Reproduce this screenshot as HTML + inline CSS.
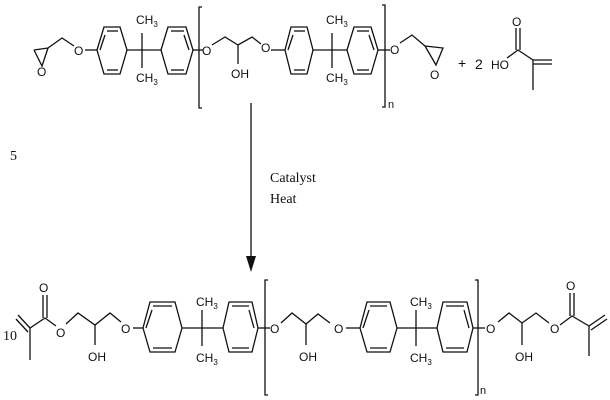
<!DOCTYPE html>
<html><head><meta charset="utf-8"><style>
html,body{margin:0;padding:0;background:#fff;}
svg{display:block;}
text{font-family:"Liberation Sans",sans-serif;fill:#111;}
</style></head><body>
<svg width="610" height="400" viewBox="0 0 610 400" xmlns="http://www.w3.org/2000/svg">
<g stroke="#111" stroke-width="1.3" fill="none">
<polyline points="34,50 48,48 42,66 34,50"/>
<polyline points="48,48 62,38 74,46"/>
<line x1="85" y1="50" x2="97" y2="50"/>
<polygon points="97,50 104,27 120,27 127,50 120,74 104,74"/>
<line x1="107" y1="31" x2="118" y2="31"/><line x1="107" y1="70" x2="118" y2="70"/><line x1="100" y1="50" x2="105" y2="35"/>
<line x1="127" y1="50" x2="161" y2="50"/>
<line x1="142" y1="33" x2="142" y2="68"/>
<polygon points="161,50 168,27 186,27 193,50 186,74 168,74"/>
<line x1="171" y1="31" x2="184" y2="31"/><line x1="171" y1="70" x2="184" y2="70"/><line x1="189" y1="50" x2="184" y2="35"/>
<line x1="193" y1="50" x2="203" y2="50"/>
<polyline points="202,7 199,7 199,108 202,108"/>
<polyline points="212,45 225,37 238,45 252,37 261,44"/>
<line x1="238" y1="45" x2="238" y2="64"/>
<line x1="271" y1="50" x2="285" y2="50"/>
<polygon points="285,50 291,27 307,27 313,50 307,74 291,74"/>
<line x1="294" y1="31" x2="305" y2="31"/><line x1="294" y1="70" x2="305" y2="70"/><line x1="288" y1="50" x2="293" y2="35"/>
<line x1="313" y1="50" x2="347" y2="50"/>
<line x1="332" y1="33" x2="332" y2="68"/>
<polygon points="347,50 354,27 371,27 378,50 371,74 354,74"/>
<line x1="357" y1="31" x2="369" y2="31"/><line x1="357" y1="70" x2="369" y2="70"/><line x1="374" y1="50" x2="369" y2="35"/>
<line x1="378" y1="50" x2="390" y2="50"/>
<polyline points="382,5 385,5 385,107 382,107"/>
<polyline points="400,43 412,35 425,46"/>
<polyline points="425,46 443,48 436,65 425,46"/>
<polyline points="507,58 518,50 533,60 552,60"/>
<line x1="533" y1="64" x2="552" y2="64"/>
<line x1="516" y1="28" x2="516" y2="50"/><line x1="520" y1="28" x2="520" y2="50"/>
<line x1="533" y1="60" x2="533" y2="90"/>
<line x1="251" y1="103" x2="251" y2="258"/>
<polyline points="18,315 30,328 45,318 56,326"/>
<line x1="16" y1="319" x2="28" y2="332"/>
<line x1="30" y1="328" x2="30" y2="360"/>
<line x1="43" y1="295" x2="43" y2="318"/><line x1="47" y1="295" x2="47" y2="318"/>
<polyline points="66,324 78,313 95,325 110,313 121,322"/>
<line x1="95" y1="325" x2="95" y2="345"/>
<line x1="133" y1="328" x2="143" y2="328"/>
<polygon points="143,328 150,302 175,302 182,328 175,352 150,352"/>
<line x1="153" y1="306" x2="172" y2="306"/><line x1="153" y1="348" x2="172" y2="348"/><line x1="146" y1="328" x2="152" y2="310"/>
<line x1="182" y1="328" x2="223" y2="328"/>
<line x1="202" y1="310" x2="202" y2="346"/>
<polygon points="223,328 229,302 252,302 258,328 252,352 229,352"/>
<line x1="232" y1="306" x2="249" y2="306"/><line x1="232" y1="348" x2="249" y2="348"/><line x1="254" y1="328" x2="249" y2="310"/>
<line x1="258" y1="328" x2="270" y2="328"/>
<polyline points="268,280 265,280 265,395 268,395"/>
<polyline points="281,323 292,313 306,324 318,314 330,323"/>
<line x1="306" y1="324" x2="306" y2="345"/>
<line x1="346" y1="328" x2="360" y2="328"/>
<polygon points="360,328 367,302 390,302 397,328 390,352 367,352"/>
<line x1="370" y1="306" x2="387" y2="306"/><line x1="370" y1="348" x2="387" y2="348"/><line x1="363" y1="328" x2="369" y2="310"/>
<line x1="397" y1="328" x2="437" y2="328"/>
<line x1="416" y1="310" x2="416" y2="346"/>
<polygon points="437,328 443,302 467,302 473,328 467,352 443,352"/>
<line x1="446" y1="306" x2="464" y2="306"/><line x1="446" y1="348" x2="464" y2="348"/><line x1="469" y1="328" x2="464" y2="310"/>
<line x1="473" y1="328" x2="485" y2="328"/>
<polyline points="475,280 478,280 478,395 475,395"/>
<polyline points="498,322 509,313 522,323 536,313 549,323"/>
<line x1="522" y1="323" x2="522" y2="345"/>
<polyline points="560,325 572,316 589,326 605,315"/>
<line x1="591" y1="330" x2="607" y2="319"/>
<line x1="570" y1="293" x2="570" y2="316"/><line x1="574" y1="293" x2="574" y2="316"/>
<line x1="589" y1="326" x2="589" y2="356"/>
</g>
<polygon points="246,256 256,256 251,272" fill="#111"/>
<g font-size="12">
<text x="74" y="55">O</text>
<text x="37" y="76">O</text>
<text x="136" y="24">CH<tspan font-size="8" dy="3">3</tspan></text>
<text x="136" y="82">CH<tspan font-size="8" dy="3">3</tspan></text>
<text x="202" y="55">O</text>
<text x="231" y="78">OH</text>
<text x="261" y="52">O</text>
<text x="326" y="24">CH<tspan font-size="8" dy="3">3</tspan></text>
<text x="326" y="82">CH<tspan font-size="8" dy="3">3</tspan></text>
<text x="390" y="54">O</text>
<text x="430" y="79">O</text>
<text x="388" y="108" font-size="11">n</text>
<text x="458" y="68" font-size="14">+</text>
<text x="475" y="69" font-size="14">2</text>
<text x="491" y="69">HO</text>
<text x="512" y="26">O</text>
<text x="39" y="292">O</text>
<text x="56" y="337">O</text>
<text x="88" y="361">OH</text>
<text x="121" y="333">O</text>
<text x="196" y="306">CH<tspan font-size="8" dy="3">3</tspan></text>
<text x="196" y="362">CH<tspan font-size="8" dy="3">3</tspan></text>
<text x="270" y="333">O</text>
<text x="299" y="361">OH</text>
<text x="334" y="333">O</text>
<text x="410" y="306">CH<tspan font-size="8" dy="3">3</tspan></text>
<text x="410" y="362">CH<tspan font-size="8" dy="3">3</tspan></text>
<text x="480" y="394" font-size="11">n</text>
<text x="486" y="333">O</text>
<text x="515" y="361">OH</text>
<text x="550" y="333">O</text>
<text x="566" y="290">O</text>
</g>
<g font-size="14">
<text x="10" y="160" style="font-family:'Liberation Serif',serif">5</text>
<text x="3" y="340" style="font-family:'Liberation Serif',serif">10</text>
<text x="270" y="182" style="font-family:'Liberation Serif',serif">Catalyst</text>
<text x="270" y="203" style="font-family:'Liberation Serif',serif">Heat</text>
</g>
</svg>
</body></html>
